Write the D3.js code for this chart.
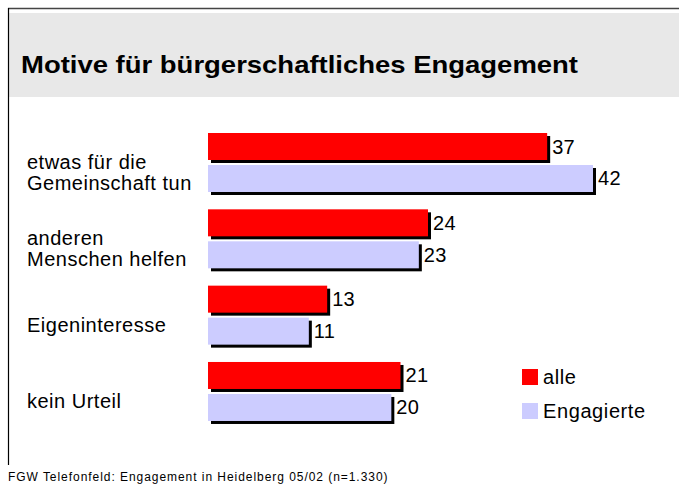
<!DOCTYPE html>
<html>
<head>
<meta charset="utf-8">
<script src="https://cdn.jsdelivr.net/npm/d3@7"></script>
<style>
  body { margin: 0; background: #fff; }
  text { font-family: "Liberation Sans", Arial, sans-serif; fill: #000; }
</style>
</head>
<body>
<div id="chart"></div>
<script>
// data
var categories = [["etwas für die", "Gemeinschaft tun"], ["anderen", "Menschen helfen"], ["Eigeninteresse"], ["kein Urteil"]]
var alle = [37, 24, 13, 21]
var engagierte = [42, 23, 11, 20]
var seriesNames = ["alle", "Engagierte"]
var colors = ["#ff0000", "#ccccff"]

var width = 679, height = 484

var svg = d3.select("#chart").append("svg")
  .attr("width", width)
  .attr("height", height)

// frame + header band
svg.append("rect").attr("x", 9).attr("y", 13).attr("width", width - 9).attr("height", 84).attr("fill", "#e8e8e8")
svg.append("line").attr("x1", 8).attr("x2", width).attr("y1", 8.5).attr("y2", 8.5).attr("stroke", "#444").attr("stroke-width", 1.5)
svg.append("line").attr("x1", 8.5).attr("x2", 8.5).attr("y1", 8).attr("y2", 465).attr("stroke", "#000").attr("stroke-width", 1.2)

svg.append("text").attr("x", 21).attr("y", 73)
  .style("font-size", "24px").style("font-weight", "bold")
  .attr("textLength", 557).attr("lengthAdjust", "spacingAndGlyphs")
  .text("Motive für bürgerschaftliches Engagement")

// scales
var x = d3.scaleLinear().domain([0, 42]).range([208, 593])
var y = d3.scaleBand().domain(d3.range(categories.length)).range([128, 433.3])
var sub = d3.scaleBand().domain([0, 1]).range([5, 64]).paddingInner(0.156)

var groups = svg.append("g").selectAll("g")
  .data(categories)
  .enter().append("g")
  .attr("transform", function(d, i) { return "translate(0," + y(i) + ")" })

var series = [alle, engagierte]

groups.each(function(cat, i) {
  var g = d3.select(this)
  series.forEach(function(vals, s) {
    var v = vals[i]
    var top = sub(s), h = sub.bandwidth()
    // shadow
    g.append("rect").attr("x", x(0) + 3).attr("y", top + 3)
      .attr("width", x(v) - x(0)).attr("height", h).attr("fill", "#000")
    g.append("rect").attr("x", x(0)).attr("y", top)
      .attr("width", x(v) - x(0)).attr("height", h).attr("fill", colors[s])
    g.append("text").attr("x", x(v) + 5).attr("y", top + h / 2 + 7)
      .style("font-size", "20px").style("letter-spacing", "0.3px").text(v)
  })
  // category label
  var lines = cat
  g.append("text").attr("x", 27)
    .style("font-size", "20px").style("letter-spacing", "0.5px")
    .selectAll("tspan").data(lines).enter().append("tspan")
    .attr("x", 27)
    .attr("y", function(d, k) { return 51 + (k - (lines.length - 1) / 2) * 21 })
    .text(function(d) { return d })
})

// legend
var legend = svg.append("g").selectAll("g")
  .data(seriesNames)
  .enter().append("g")
  .attr("transform", function(d, i) { return "translate(522," + (369 + i * 34) + ")" })
legend.append("rect").attr("width", 16).attr("height", 16).attr("fill", function(d, i) { return colors[i] })
legend.append("text").attr("x", 21).attr("y", 15).style("font-size", "20px").style("letter-spacing", "0.6px").text(function(d) { return d })

svg.append("text").attr("x", 8).attr("y", 481).style("font-size", "12px").style("letter-spacing", "0.95px")
  .text("FGW Telefonfeld: Engagement in Heidelberg 05/02 (n=1.330)")
</script>
</body>
</html>
